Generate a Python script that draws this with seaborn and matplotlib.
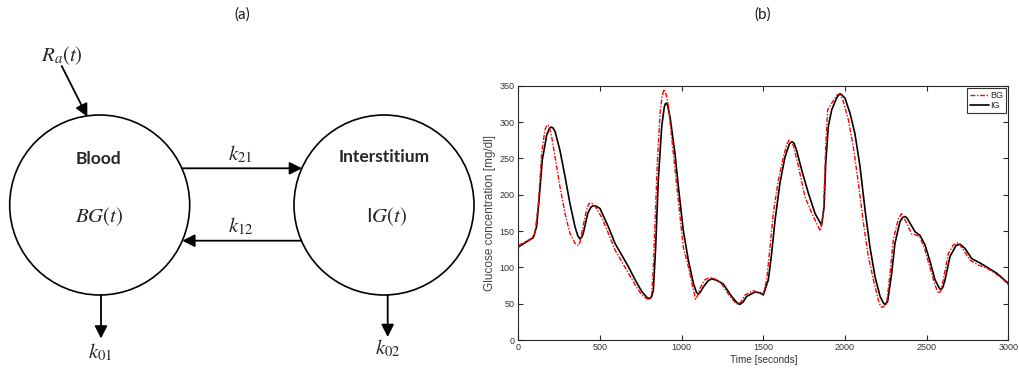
import matplotlib
matplotlib.use("Agg")
import matplotlib.pyplot as plt
from matplotlib.patches import Circle
import pandas as pd
import seaborn as sns

# ---- Glucose traces: blood glucose (BG) and interstitial glucose (IG) ----
bg_time = [0, 82, 102, 123, 143, 163, 172, 180, 190, 204, 225, 255, 286, 316, 347,
           358, 368, 378, 388, 413, 428, 440, 452, 470, 510, 551, 592, 633, 674, 715,
           755, 785, 796, 807, 817, 827, 837, 851, 868, 880, 892, 905, 919, 949, 976,
           1010, 1041, 1072, 1086, 1100, 1112, 1143, 1170, 1194, 1220, 1245, 1296,
           1330, 1347, 1365, 1388, 1439, 1480, 1500, 1521, 1541, 1561, 1592, 1623,
           1645, 1657, 1670, 1684, 1715, 1755, 1806, 1849, 1868, 1882, 1894, 1919,
           1940, 1955, 1970, 1985, 2021, 2051, 2082, 2113, 2143, 2174, 2204, 2218,
           2232, 2255, 2276, 2296, 2327, 2347, 2378, 2408, 2429, 2459, 2490, 2521,
           2551, 2566, 2576, 2588, 2602, 2633, 2664, 2694, 2725, 2766, 2817, 2868,
           2919, 2970, 3000]
bg_value = [130, 140, 147, 188, 257, 289, 294, 296, 293, 280, 252, 211, 174, 147, 133,
            131, 130, 135, 147, 174, 186, 189, 188, 184, 169, 147, 124, 108, 92, 76,
            62, 57, 56, 57, 64, 101, 161, 243, 312, 335, 345, 338, 321, 257, 200,
            128, 101, 69, 56, 62, 71, 83, 86, 85, 82, 77, 60,
            51, 49, 53, 62, 68, 64, 64, 83, 128, 174, 220, 252,
            270, 275, 273, 268, 239, 197, 170, 150, 174, 266, 317, 326,
            333, 338, 337, 332, 303, 266, 216, 161, 115, 83, 55, 46,
            45, 50, 92, 138, 167, 174, 161, 146, 145, 142, 124, 99,
            76, 67, 64, 69, 83, 119, 131, 134, 124, 110, 103, 99,
            92, 83, 76]

ig_time = [0, 92, 112, 127, 147, 174, 190, 200, 212, 225, 255, 286, 316, 347, 365,
           378, 390, 398, 425, 445, 460, 478, 500, 551, 592, 633, 674, 715, 755, 790,
           806, 817, 827, 841, 857, 878, 894, 900, 906, 914, 929, 959, 980, 1010,
           1041, 1072, 1090, 1102, 1115, 1133, 1164, 1185, 1204, 1225, 1255, 1306,
           1340, 1357, 1375, 1398, 1449, 1480, 1500, 1531, 1551, 1572, 1602, 1633,
           1660, 1674, 1688, 1704, 1735, 1776, 1817, 1857, 1872, 1882, 1898, 1919,
           1949, 1960, 1970, 1982, 2000, 2031, 2061, 2092, 2123, 2153, 2184, 2215,
           2235, 2245, 2261, 2286, 2306, 2337, 2355, 2368, 2380, 2398, 2429, 2459,
           2490, 2521, 2551, 2576, 2588, 2600, 2613, 2643, 2680, 2704, 2735, 2776,
           2827, 2878, 2929, 3000]
ig_value = [128, 141, 156, 193, 248, 282, 291, 293, 292, 287, 261, 225, 188, 156, 143,
            139, 142, 147, 174, 183, 185, 184, 181, 156, 133, 117, 101, 83, 67, 58,
            57, 60, 69, 128, 220, 294, 321, 325, 326, 323, 307, 257, 211, 151,
            110, 78, 66, 63, 66, 73, 82, 84, 83, 81, 77, 60,
            51, 49, 52, 60, 66, 65, 62, 83, 119, 165, 216, 252,
            270, 273, 271, 261, 234, 202, 174, 158, 183, 243, 294, 317,
            333, 337, 339, 337, 333, 312, 284, 239, 179, 128, 87, 60,
            51, 49, 53, 92, 133, 163, 169, 170, 168, 161, 149, 144,
            131, 108, 83, 72, 69, 73, 83, 115, 130, 132, 126, 112,
            106, 99, 92, 78]

x_ticks = [0, 500, 1000, 1500, 2000, 2500, 3000]
y_ticks = [0, 50, 100, 150, 200, 250, 300, 350]

sns.set_theme(style="ticks")
plt.rcParams["mathtext.fontset"] = "stix"
plt.rcParams["font.family"] = ["Liberation Sans", "DejaVu Sans"]

W, H = 1019, 371
fig = plt.figure(figsize=(W / 100, H / 100), dpi=100)

# ---- Panel (a): two-compartment diagram drawn in pixel coordinates ----
ax_d = fig.add_axes([0, 0, 1, 1])
ax_d.set_xlim(0, W)
ax_d.set_ylim(H, 0)
ax_d.axis("off")

lbl_font = "Lato"
ax_d.text(242, 15, "(a)", ha="center", va="center", fontsize=11, family=lbl_font, color="#1a1a1a")
ax_d.text(763, 15, "(b)", ha="center", va="center", fontsize=11, family=lbl_font, color="#1a1a1a")

for cx in (99.7, 384.0):
    ax_d.add_patch(Circle((cx, 205), 90, fill=False, edgecolor="black", lw=1.2))

ax_d.text(98.3, 158.5, "Blood", ha="center", va="center", fontsize=12.5,
          fontweight="bold", family=lbl_font)
ax_d.text(384, 157.5, "Interstitium", ha="center", va="center", fontsize=12.5,
          fontweight="bold", family=lbl_font)

math_size = 15
ax_d.text(99, 217, r"$BG(t)$", ha="center", va="center", fontsize=math_size)
ax_d.text(386.5, 217, r"I$G(t)$", ha="center", va="center", fontsize=math_size,
          family="Liberation Sans")
ax_d.text(62, 56, r"$R_a(t)$", ha="center", va="center", fontsize=math_size)
ax_d.text(240.7, 154, r"$k_{21}$", ha="center", va="center", fontsize=math_size)
ax_d.text(240.7, 226, r"$k_{12}$", ha="center", va="center", fontsize=math_size)
ax_d.text(100, 352, r"$k_{01}$", ha="center", va="center", fontsize=math_size)
ax_d.text(388, 348, r"$k_{02}$", ha="center", va="center", fontsize=math_size)

arrow_style = dict(arrowstyle="-|>,head_length=0.75,head_width=0.38", color="black",
                   lw=1.3, shrinkA=0, shrinkB=0, mutation_scale=10)
for start, tip in [((61.7, 66), (87.3, 116.7)),
                   ((181.7, 168.3), (302, 168.3)),
                   ((301.4, 240.7), (182.3, 240.7)),
                   ((101, 295), (101, 338.5)),
                   ((387.7, 295), (387.7, 337))]:
    ax_d.annotate("", xy=tip, xytext=start, arrowprops=arrow_style)

# ---- Panel (b): glucose traces ----
left, right, top, bottom = 518.3, 1008.3, 85.7, 340.0
ax = fig.add_axes([left / W, 1 - bottom / H, (right - left) / W, (bottom - top) / H])

bg_df = pd.DataFrame({"t": bg_time, "g": bg_value})
ig_df = pd.DataFrame({"t": ig_time, "g": ig_value})

sns.lineplot(data=ig_df, x="t", y="g", ax=ax, color="black", lw=1.2,
             estimator=None, label="IG", zorder=2)
sns.lineplot(data=bg_df, x="t", y="g", ax=ax, color="#ff0000", lw=1.0,
             estimator=None, label="BG", zorder=3)
bg_dash = [3.5, 1.2, 1.0, 1.2]
ax.lines[-1].set_dashes(bg_dash)

ax.set_xlim(0, 3000)
ax.set_ylim(0, 350)
ax.set_xticks(x_ticks)
ax.set_yticks(y_ticks)
ax.tick_params(direction="in", length=3.5, width=0.8, top=True, right=True,
               labelsize=6.5, labelcolor="#333333", color="#262626", pad=2.5)
for sp in ax.spines.values():
    sp.set_visible(True)
    sp.set_color("#262626")
    sp.set_linewidth(0.8)
ax.set_xlabel("Time [seconds]", fontsize=7.2, color="#333333", labelpad=1.5)
ax.set_ylabel("Glucose concentration [mg/dl]", fontsize=8.5, color="#444444", labelpad=3)

handles, labels = ax.get_legend_handles_labels()
order = [labels.index("BG"), labels.index("IG")]
leg = ax.legend([handles[i] for i in order], [labels[i] for i in order],
                loc="upper right", fontsize=6.5, frameon=True, fancybox=False,
                framealpha=1, edgecolor="#333333", handlelength=2.2,
                handletextpad=0.1, borderpad=0.3, labelspacing=0.2,
                borderaxespad=0.25)
leg.get_frame().set_linewidth(0.8)
leg.legend_handles[0].set_dashes(bg_dash)

fig.savefig("out.png", dpi=100)
